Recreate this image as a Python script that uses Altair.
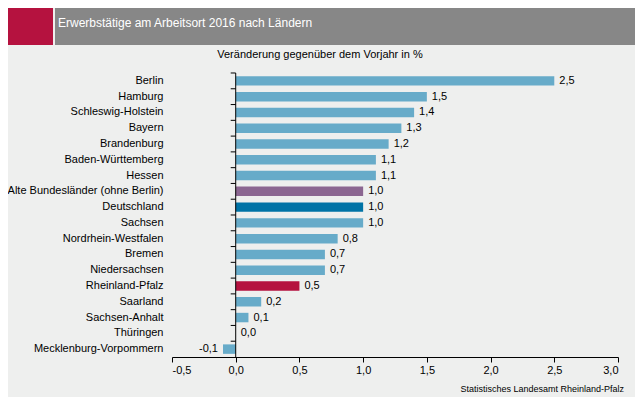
import altair as alt
import pandas as pd

laender = ["Berlin", "Hamburg", "Schleswig-Holstein", "Bayern", "Brandenburg",
           "Baden-Württemberg", "Hessen", "Alte Bundesländer (ohne Berlin)",
           "Deutschland", "Sachsen", "Nordrhein-Westfalen", "Bremen",
           "Niedersachsen", "Rheinland-Pfalz", "Saarland", "Sachsen-Anhalt",
           "Thüringen", "Mecklenburg-Vorpommern"]
veraenderung = [2.5, 1.5, 1.4, 1.3, 1.2, 1.1, 1.1, 1.0, 1.0, 1.0, 0.8, 0.7,
                0.7, 0.5, 0.2, 0.1, 0.0, -0.1]
gruppe = (["Land"] * 7 + ["Alte Bundesländer", "Deutschland"] + ["Land"] * 4
          + ["Rheinland-Pfalz"] + ["Land"] * 4)
x_ticks = [-0.5, 0.0, 0.5, 1.0, 1.5, 2.0, 2.5, 3.0]

titel = "Erwerbstätige am Arbeitsort 2016 nach Ländern"
untertitel = "Veränderung gegenüber dem Vorjahr in %"
quelle = "Statistisches Landesamt Rheinland-Pfalz"

df = pd.DataFrame({"land": laender, "v": veraenderung, "gruppe": gruppe})
one = pd.DataFrame({"a": [0]})

FONT = "Liberation Sans"
W, H = 446, 284

y_enc = alt.Y("land:N", sort=laender, title=None,
              scale=alt.Scale(paddingInner=0.4, paddingOuter=0.2),
              axis=alt.Axis(ticks=False, domain=False, labelPadding=9,
                            labelFontSize=11, labelColor="#000000", labelFont=FONT))
x_enc = alt.X("v:Q", title=None,
              scale=alt.Scale(domain=[-0.5, 3.0], nice=False, zero=False),
              axis=alt.Axis(values=x_ticks, grid=False, tickSize=5, labelPadding=2,
                            labelExpr="replace(replace(format(datum.value, '.1f'), '.', ','), '\u2212', '-')",
                            domainColor="#000000", tickColor="#000000",
                            labelColor="#000000", labelFontSize=11, labelFont=FONT))

base = alt.Chart(df)

bars = base.mark_bar().encode(
    x=x_enc, y=y_enc,
    color=alt.Color("gruppe:N", legend=None,
                    scale=alt.Scale(domain=["Land", "Alte Bundesländer", "Deutschland", "Rheinland-Pfalz"],
                                    range=["#67ABC9", "#8B6691", "#0073A6", "#B5123F"])),
)

lab_expr = "replace(replace(format(datum.v, '.1f'), '.', ','), '\u2212', '-')"
labels_pos = base.transform_filter("datum.v >= 0").transform_calculate(lab=lab_expr).mark_text(
    align="left", baseline="middle", dx=5, fontSize=11, font=FONT, color="#000000"
).encode(x="v:Q", y=alt.Y("land:N", sort=laender), text="lab:N")
labels_neg = base.transform_filter("datum.v < 0").transform_calculate(lab=lab_expr).mark_text(
    align="right", baseline="middle", dx=-5, fontSize=11, font=FONT, color="#000000"
).encode(x="v:Q", y=alt.Y("land:N", sort=laender), text="lab:N")

zero_line = alt.Chart(one).mark_rule(color="#000000", strokeWidth=1).encode(x=alt.datum(0))
ticks = base.mark_rule(color="#000000", strokeWidth=1, xOffset=-5, yOffset=-3.16).encode(
    x=alt.datum(0), x2=alt.datum(0),
    y=alt.Y("land:N", sort=laender, bandPosition=0),
)

red_box = alt.Chart(one).mark_rect(color="#B5123F").encode(
    x=alt.value(-172), x2=alt.value(-119), y=alt.value(-73), y2=alt.value(-28))
grey_box = alt.Chart(one).mark_rect(color="#878787").encode(
    x=alt.value(-117), x2=alt.value(480), y=alt.value(-73), y2=alt.value(-28))
title_txt = alt.Chart(one).mark_text(align="left", baseline="middle", fontSize=12,
                                      font=FONT, color="#FFFFFF").encode(
    x=alt.value(-114), y=alt.value(-50), text=alt.value(titel))
sub_txt = alt.Chart(one).mark_text(align="center", baseline="middle", fontSize=11,
                                    font=FONT, color="#000000").encode(
    x=alt.value(148), y=alt.value(-18), text=alt.value(untertitel))
src_txt = alt.Chart(one).mark_text(align="right", baseline="middle", fontSize=9,
                                    font=FONT, color="#000000").encode(
    x=alt.value(452), y=alt.value(316), text=alt.value(quelle))

chart = alt.layer(
    red_box, grey_box, title_txt, sub_txt, bars, zero_line, ticks,
    labels_pos, labels_neg, src_txt
).properties(
    width=W, height=H,
    autosize=alt.AutoSizeParams(type="none"),
    padding={"left": 164, "top": 65, "right": 17, "bottom": 40},
    background="#EEEFEE",
).configure_view(stroke=None)

chart.save("out.html", embed_options={"renderer": "svg", "actions": False})
